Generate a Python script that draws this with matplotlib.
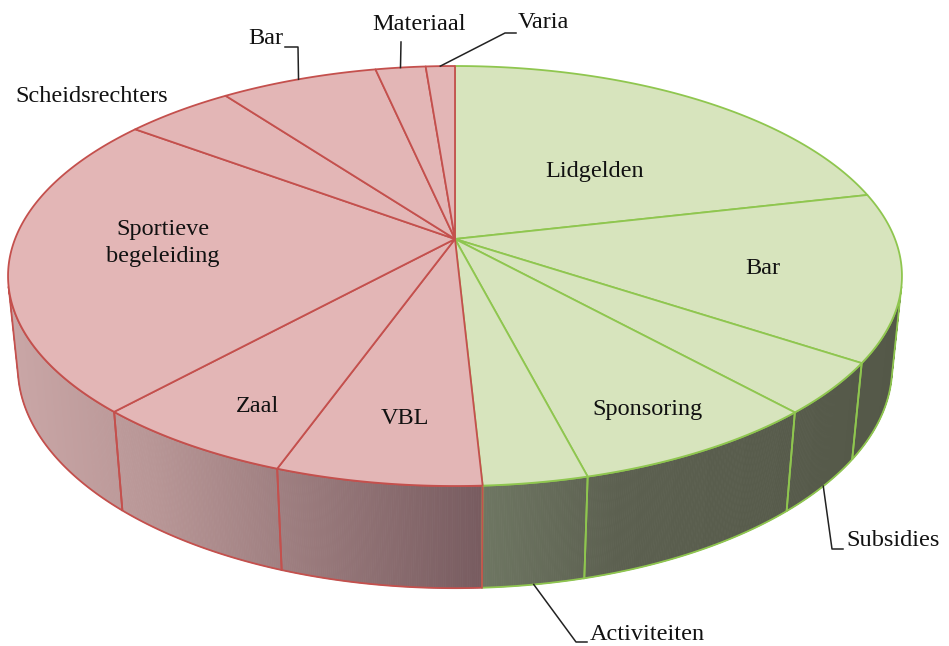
import numpy as np
import matplotlib.pyplot as plt
from matplotlib.patches import Polygon

# %% Data (share of the total in %).
income_labels = ["Lidgelden", "Bar", "Subsidies", "Sponsoring", "Activiteiten"]
income_values = [21.4, 12.9, 4.0, 7.7, 3.2]
expense_labels = ["VBL", "Zaal", "Sportieve\nbegeleiding", "Scheidsrechters",
                  "Bar", "Materiaal", "Varia"]
expense_values = [6.3, 6.3, 23.4, 4.7, 6.75, 2.15, 1.25]

# %% Perspective camera for the 3D pie.
CX, CY = 455, 239
DIST = 5.03
PHI = np.arcsin(0.4625)
SCALE = 2213
THICK = 0.235


def proj(theta, z=0.0, r=1.0):
    x = r * np.sin(theta)
    y = r * np.cos(theta)
    depth = DIST + y * np.cos(PHI) - z * np.sin(PHI)
    sx = CX + SCALE * x / depth
    sy = CY - SCALE * (y * np.sin(PHI) + z * np.cos(PHI)) / depth
    return sx, sy


top_col = {"in": "#d7e4bd", "out": "#e3b6b6"}
edge_col = {"in": "#8fc64f", "out": "#c4504d"}
wall_x = {"in": [485, 620, 905], "out": [10, 150, 480]}
wall_rgb = {"in": [(110, 118, 98), (92, 96, 80), (84, 88, 72)],
            "out": [(201, 166, 166), (184, 150, 150), (120, 92, 96)]}


def wall_color(kind, sx):
    xs = wall_x[kind]
    return tuple(np.interp(sx, xs, [c[k] for c in wall_rgb[kind]]) / 255 for k in range(3))


labels = income_labels + expense_labels
values = np.array(income_values + expense_values)
kinds = ["in"] * len(income_values) + ["out"] * len(expense_values)
edges = np.concatenate([[0], np.cumsum(values)]) / values.sum() * 2 * np.pi

lim = np.arccos(-1 / (DIST * np.cos(PHI)))
vis0, vis1 = lim, 2 * np.pi - lim

fig = plt.figure(figsize=(9.49, 6.46), dpi=100)
ax = fig.add_axes([0, 0, 1, 1])
ax.set_xlim(0, 949)
ax.set_ylim(646, 0)
ax.axis("off")

# %% Side walls.
for i, kind in enumerate(kinds):
    t0, t1 = max(edges[i], vis0), min(edges[i + 1], vis1)
    if t1 <= t0:
        continue
    ts = np.linspace(t0, t1, max(3, int((t1 - t0) / 0.004)))
    tx, ty = proj(ts, 0)
    bx, by = proj(ts, -THICK)
    for j in range(len(ts) - 1):
        quad = [(tx[j], ty[j]), (tx[j + 1], ty[j + 1]), (bx[j + 1], by[j + 1]), (bx[j], by[j])]
        c = wall_color(kind, (tx[j] + tx[j + 1]) / 2)
        ax.add_patch(Polygon(quad, closed=True, fc=c, ec=c, lw=0.6, zorder=1))
    outline = list(zip(tx, ty)) + list(zip(bx[::-1], by[::-1]))
    ax.add_patch(Polygon(outline, closed=True, fill=False, ec=edge_col[kind], lw=1.3, zorder=2))

# %% Top faces.
for i, kind in enumerate(kinds):
    ts = np.linspace(edges[i], edges[i + 1], max(3, int((edges[i + 1] - edges[i]) / 0.01)))
    sx, sy = proj(ts, 0)
    pts = [(CX, CY)] + list(zip(sx, sy))
    ax.add_patch(Polygon(pts, closed=True, fc=top_col[kind], ec=edge_col[kind], lw=1.3,
                         joinstyle="round", zorder=3))

# %% Labels.
font = dict(family="Liberation Serif", size=17.5, color="#111111")
inside = {0: (595, 171), 1: (763, 268), 3: (648, 409), 5: (405, 419), 6: (258, 407),
          7: (163, 243), 8: (92, 97)}
for i, (x, y) in inside.items():
    ax.text(x, y, labels[i], ha="center", va="center", linespacing=1.35, zorder=5, **font)

# outside labels: text anchor, leader bend points
outside = {
    9: ((283, 38), "right", [(298, 47), (285, 47)], 0),
    10: ((419, 25), "center", [(401, 42)], 0),
    11: ((518, 23), "left", [(505, 33), (516, 33)], 0),
    2: ((846, 541), "left", [(832, 549), (843, 549)], -THICK),
    4: ((590, 635), "left", [(576, 642), (587, 642)], -THICK),
}
for i, ((x, y), ha, bends, z) in outside.items():
    mid = (edges[i] + edges[i + 1]) / 2
    sx, sy = proj(mid, z)
    pts = [(sx, sy)] + bends
    ax.plot([p[0] for p in pts], [p[1] for p in pts], color="#222222", lw=1.1, zorder=4)
    ax.text(x, y, labels[i], ha=ha, va="center", zorder=5, **font)

fig.savefig("out.png", dpi=100)
